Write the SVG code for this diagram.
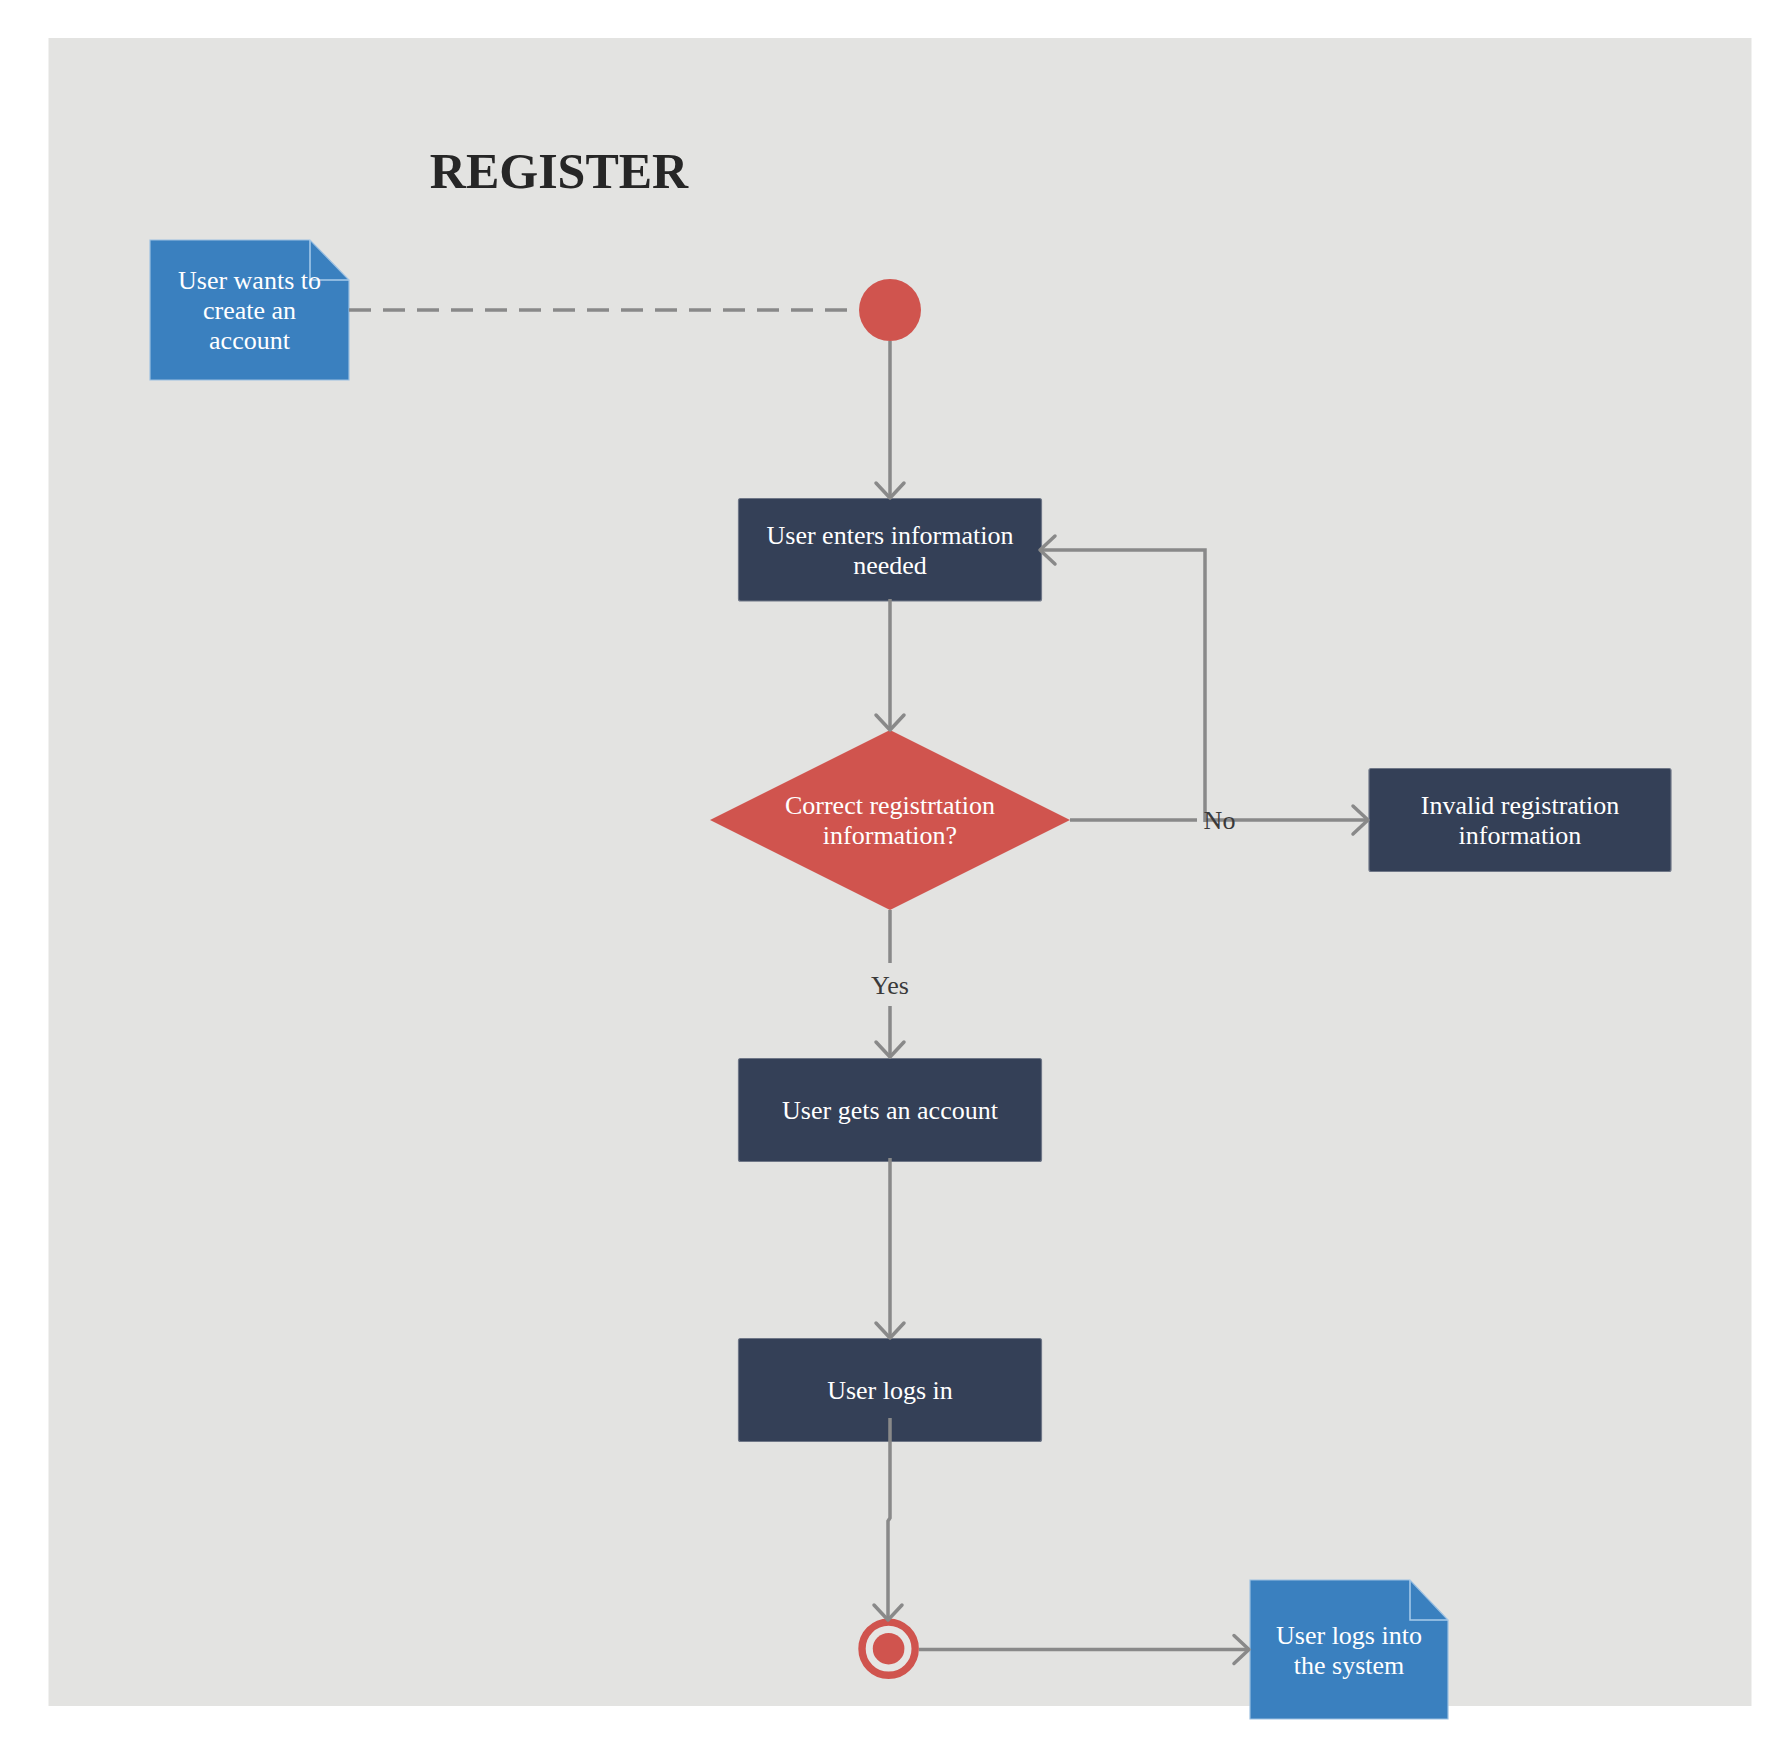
<svg xmlns="http://www.w3.org/2000/svg" width="1791" height="1760" viewBox="0 0 1791 1760">
<defs>
<style>
.bg{fill:#e3e3e1}
.box{fill:#344057;stroke:#6e7686;stroke-width:1.2}
.note{fill:#3a80bf;stroke:#9cc0e2;stroke-width:1.2}
.fold{fill:none;stroke:#a9cbeb;stroke-width:1.5}
.red{fill:#d0544e}
.t{font-family:"Liberation Serif","Times New Roman",serif;font-size:26px;fill:#ffffff;text-anchor:middle;dominant-baseline:central}
.lbl{font-family:"Liberation Serif","Times New Roman",serif;font-size:26px;fill:#3a3a3a;text-anchor:middle;dominant-baseline:central}
.title{font-family:"Liberation Serif","Times New Roman",serif;font-size:50px;font-weight:bold;fill:#262626;text-anchor:middle}
.c{fill:none;stroke:#898989;stroke-width:3.5}
.dash{stroke-dasharray:22 12}
</style>
<marker id="arr" markerUnits="userSpaceOnUse" viewBox="-20 -20 25 40" markerWidth="25" markerHeight="40" refX="0" refY="0" orient="auto" overflow="visible">
<path d="M-15,-14 L0,0 L-15,14" fill="none" stroke="#898989" stroke-width="3.5" stroke-linecap="round" stroke-linejoin="round"/>
</marker>
</defs>
<rect x="0" y="0" width="1791" height="1760" fill="#ffffff"/>
<rect class="bg" x="48.5" y="38" width="1703" height="1668"/>
<text class="title" x="559" y="188">REGISTER</text>

<g id="note-start">
<polygon class="note" points="150,240 310,240 349,280 349,380 150,380"/>
<polyline class="fold" points="310,240 310,280 349,280"/>
<text class="t" x="249.5" y="280">User wants to</text>
<text class="t" x="249.5" y="310">create an</text>
<text class="t" x="249.5" y="340">account</text>
</g>

<g id="start">
<circle class="red" cx="890" cy="310" r="31"/>
</g>

<g id="enter-info">
<rect class="box" x="738.5" y="498.5" width="303" height="102.5" rx="2"/>
<text class="t" x="890" y="535">User enters information</text>
<text class="t" x="890" y="565">needed</text>
</g>

<g id="decision">
<polygon class="red" points="890,730 1070,820 890,910 710,820"/>
<text class="t" x="890" y="805">Correct registrtation</text>
<text class="t" x="890" y="835">information?</text>
</g>

<g id="invalid">
<rect class="box" x="1369" y="768.5" width="302" height="103" rx="2"/>
<text class="t" x="1520" y="805">Invalid registration</text>
<text class="t" x="1520" y="835">information</text>
</g>

<g id="gets-account">
<rect class="box" x="738.5" y="1058.5" width="303" height="103" rx="2"/>
<text class="t" x="890" y="1110">User gets an account</text>
</g>

<g id="logs-in">
<rect class="box" x="738.5" y="1338.5" width="303" height="103" rx="2"/>
<text class="t" x="890" y="1390">User logs in</text>
</g>

<g id="end">
<circle cx="888.6" cy="1648.7" r="26.6" fill="#e6e6e4" stroke="#d0544e" stroke-width="7.4"/>
<circle class="red" cx="888.6" cy="1648.7" r="15.8"/>
</g>

<g id="note-end">
<polygon class="note" points="1250,1580 1410,1580 1448,1620 1448,1719 1250,1719"/>
<polyline class="fold" points="1410,1580 1410,1620 1448,1620"/>
<text class="t" x="1349" y="1635">User logs into</text>
<text class="t" x="1349" y="1665">the system</text>
</g>

<g id="connectors">
<path class="c dash" d="M349,310 H858"/>
<path class="c" d="M890,341 V498" marker-end="url(#arr)"/>
<path class="c" d="M890,599 V730" marker-end="url(#arr)"/>
<path class="c" d="M1070,820 H1197 M1205,820 H1368" marker-end="url(#arr)"/>
<path class="c" d="M1205,822 V550 H1040" marker-end="url(#arr)"/>
<path class="c" d="M890,910 V1057" marker-end="url(#arr)"/>
<rect class="bg" x="866" y="963" width="48" height="43"/>
<text class="lbl" x="890" y="985">Yes</text>
<text class="lbl" x="1219.5" y="820">No</text>
<path class="c" d="M890,1158 V1338" marker-end="url(#arr)"/>
<path class="c" d="M890,1418 V1518 L888,1521 V1620" marker-end="url(#arr)"/>
<path class="c" d="M919,1649.5 H1249" marker-end="url(#arr)"/>
</g>
</svg>
